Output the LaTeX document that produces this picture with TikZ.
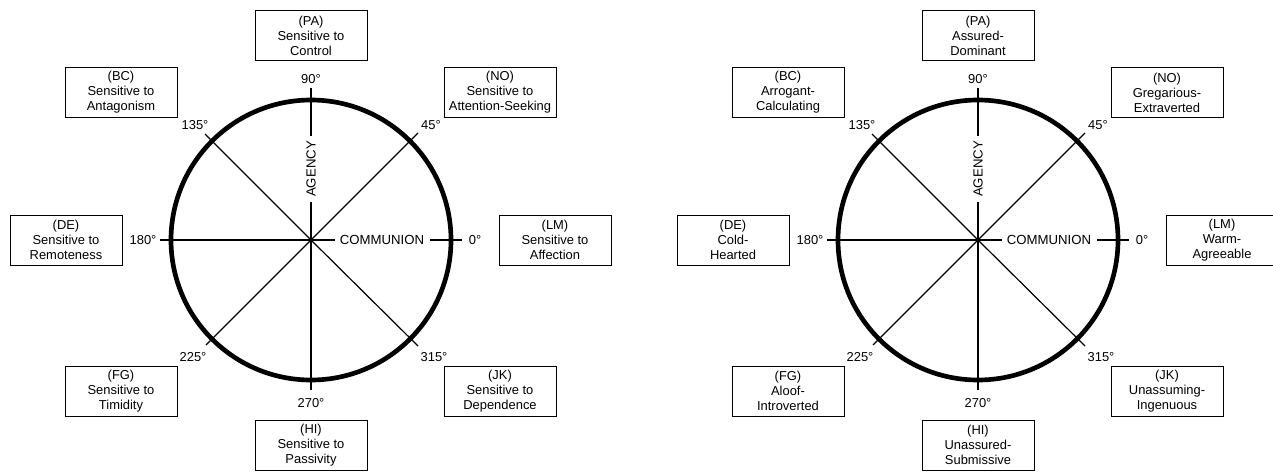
\documentclass[tikz,border=0pt]{standalone}
\usepackage{fontspec}
\setmainfont{Liberation Sans}
\tikzset{
  txt/.style={font=\fontsize{9.7}{11.2}\selectfont, inner sep=0pt},
  box/.style={draw=black, line width=0.75pt, minimum width=84pt, minimum height=37.5pt,
              align=center, inner sep=0pt, font=\fontsize{9.7}{11.2}\selectfont, fill=white},
  spoke/.style={line width=0.9pt},
  rim/.style={line width=3.5pt},
  axislbl/.style={fill=white, inner xsep=4pt, inner ysep=2pt, font=\fontsize{9.9}{11.2}\selectfont}
}
% #1 prefix, #2 PA, #3 BC, #4 NO, #5 DE, #6 LM, #7 FG, #8 JK, #9 HI
\newcommand\wheeldiagram[9]{%
  \coordinate (#1c) at (0,0);
  \coordinate (#1e0) at (151,0);
  \coordinate (#1e45) at (107,-107);
  \coordinate (#1e90) at (0,-152);
  \coordinate (#1e135) at (-106,-106);
  \coordinate (#1e180) at (-151,0);
  \coordinate (#1e225) at (-105,105);
  \coordinate (#1e270) at (0,150);
  \coordinate (#1e315) at (107,106);
  \foreach \a in {0,45,...,315} {\draw[spoke] (#1c) -- (#1e\a);}
  \draw[rim] (#1c) circle[radius=105pt];
  \node[axislbl, rotate=90] (#1ag) at (0,-71) {AGENCY};
  \node[axislbl] (#1co) at (71,0) {COMMUNION};
  \node[txt] (#1d0) at (164,0) {0°};
  \node[txt] (#1d45) at (120,-115) {45°};
  \node[txt] (#1d90) at (0,-161) {90°};
  \node[txt] (#1d135) at (-116,-115) {135°};
  \node[txt] (#1d180) at (-168,0) {180°};
  \node[txt] (#1d225) at (-118,117) {225°};
  \node[txt] (#1d270) at (0,163) {270°};
  \node[txt] (#1d315) at (123,117) {315°};
  \node[box] (#1PA) at (0,-204.5) {(PA)\\#2};
  \node[box] (#1BC) at (-190,-147.5) {(BC)\\#3};
  \node[box] (#1NO) at (189,-147.5) {(NO)\\#4};
  \node[box] (#1DE) at (-245,0) {(DE)\\#5};
  \node[box] (#1LM) at (244,0) {(LM)\\#6};
  \node[box] (#1FG) at (-190,151) {(FG)\\#7};
  \node[box] (#1JK) at (189,151) {(JK)\\#8};
  \node[box] (#1HI) at (0,205) {(HI)\\#9};
}
\begin{document}
\begin{tikzpicture}[x=0.75pt, y=-0.75pt]
  \useasboundingbox (0,0) rectangle (1273,471);
  \begin{scope}[shift={(311,240)}]
    \wheeldiagram{L}{Sensitive to\\Control}{Sensitive to\\Antagonism}{Sensitive to\\Attention-Seeking}%
      {Sensitive to\\Remoteness}{Sensitive to\\Affection}{Sensitive to\\Timidity}%
      {Sensitive to\\Dependence}{Sensitive to\\Passivity}
  \end{scope}
  \begin{scope}[shift={(978,240)}]
    \wheeldiagram{R}{Assured-\\Dominant}{Arrogant-\\Calculating}{Gregarious-\\Extraverted}%
      {Cold-\\Hearted}{Warm-\\Agreeable}{Aloof-\\Introverted}%
      {Unassuming-\\Ingenuous}{Unassured-\\Submissive}
  \end{scope}
\end{tikzpicture}
\end{document}
